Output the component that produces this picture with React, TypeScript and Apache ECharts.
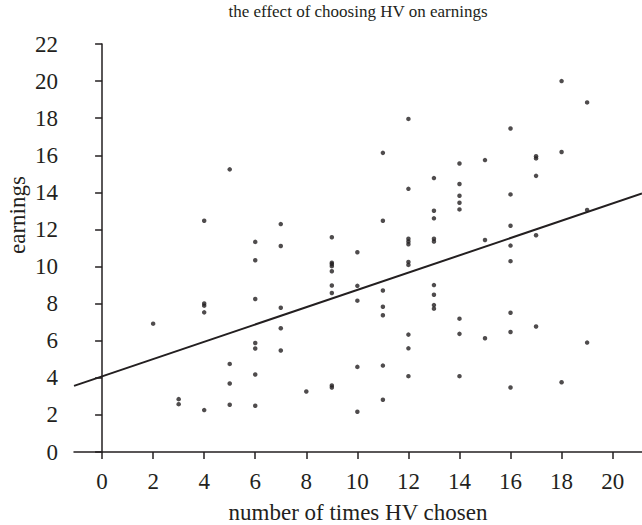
import React, { useEffect, useRef } from "react";
import * as echarts from "echarts";

// Data: [timesChosen, earnings]
const x2 = [6.92];
const x3 = [2.85, 2.58];
const x4 = [12.47, 8.01, 7.89, 7.53, 2.26];
const x5 = [15.24, 4.75, 3.69, 2.55];
const x6 = [11.33, 10.34, 8.25, 5.88, 5.58, 4.18, 2.49];
const x7 = [12.29, 11.11, 7.78, 6.67, 5.47];
const x8 = [3.26];
const x9 = [11.58, 10.21, 10.13, 10.02, 9.75, 8.98, 8.57, 3.59, 3.48];
const x10 = [10.77, 8.96, 8.16, 4.59, 2.17];
const x11 = [16.13, 12.47, 8.71, 7.83, 7.37, 4.66, 2.82];
const x12 = [17.96, 14.19, 11.5, 11.35, 11.2, 10.25, 10.09, 6.33, 5.59, 4.09];
const x13 = [14.77, 13.01, 12.6, 11.5, 11.35, 9.0, 8.48, 7.92, 7.73];
const x14 = [15.56, 14.45, 13.82, 13.44, 13.08, 7.19, 6.37, 4.09];
const x15 = [15.74, 11.43, 6.13];
const x16 = [17.44, 13.89, 12.2, 11.13, 10.29, 7.51, 6.47, 3.48];
const x17 = [15.95, 15.83, 14.89, 11.69, 6.77];
const x18 = [20.0, 16.18, 3.76];
const x19 = [18.85, 13.05, 5.9];

const columns: [number, number[]][] = [
  [2, x2], [3, x3], [4, x4], [5, x5], [6, x6], [7, x7], [8, x8], [9, x9],
  [10, x10], [11, x11], [12, x12], [13, x13], [14, x14], [15, x15],
  [16, x16], [17, x17], [18, x18], [19, x19],
];

// Fitted line
const fitIntercept = 4.08;
const fitSlope = 0.466;

const xTicks = [0, 2, 4, 6, 8, 10, 12, 14, 16, 18, 20];
const X_MIN = -1.1;
const X_MAX = 21.15;

const titleText = "the effect of choosing HV on earnings";
const xName = "number of times HV chosen";
const yName = "earnings";

const INK = "#231f20";
const FONT = "'Liberation Serif', 'Times New Roman', serif";

export default function App() {
  const ref = useRef<HTMLDivElement>(null);
  useEffect(() => {
    document.body.style.margin = "0";
    if (!ref.current) return;
    const chart = echarts.init(ref.current, undefined, { renderer: "svg" });
    const points: number[][] = [];
    columns.forEach(([x, ys]) => ys.forEach((y) => points.push([x, y])));
    const fit = [
      [X_MIN, fitIntercept + fitSlope * X_MIN],
      [X_MAX, fitIntercept + fitSlope * X_MAX],
    ];
    chart.setOption({
      animation: false,
      backgroundColor: "#ffffff",
      textStyle: { fontFamily: FONT },
      grid: { left: 74, right: 0, top: 44, bottom: 73 },
      xAxis: {
        type: "value",
        min: X_MIN,
        max: X_MAX,
        splitLine: { show: false },
        axisLine: { show: true, onZero: false, lineStyle: { color: INK, width: 1.5 } },
        axisTick: { show: true, length: 7, customValues: xTicks, lineStyle: { color: INK, width: 1.5 } },
        axisLabel: {
          customValues: xTicks,
          color: INK,
          fontFamily: FONT,
          fontSize: 23,
          margin: 18,
        },
      },
      yAxis: {
        type: "value",
        min: 0,
        max: 22,
        interval: 2,
        splitLine: { show: false },
        axisLine: { show: true, lineStyle: { color: INK, width: 1.5 } },
        axisTick: { show: true, length: 7, lineStyle: { color: INK, width: 1.5 } },
        axisLabel: {
          color: INK,
          fontFamily: FONT,
          fontSize: 23,
          margin: 16,
        },
      },
      graphic: [
        {
          type: "text",
          x: 358,
          y: 11.5,
          style: {
            text: titleText,
            fill: INK,
            font: `17px ${FONT}`,
            textAlign: "center",
            textVerticalAlign: "middle",
          },
        },
        {
          type: "text",
          x: 358,
          y: 512,
          style: {
            text: xName,
            fill: INK,
            font: `23px ${FONT}`,
            textAlign: "center",
            textVerticalAlign: "middle",
          },
        },
        {
          type: "text",
          x: 17,
          y: 215,
          rotation: Math.PI / 2,
          style: {
            text: yName,
            fill: INK,
            font: `23px ${FONT}`,
            textAlign: "center",
            textVerticalAlign: "middle",
          },
        },
      ],
      series: [
        {
          type: "scatter",
          data: points,
          symbolSize: 4.5,
          itemStyle: { color: INK },
        },
        {
          type: "line",
          data: fit,
          showSymbol: false,
          symbol: "none",
          lineStyle: { color: INK, width: 2 },
        },
      ],
    });
    return () => chart.dispose();
  }, []);
  return <div ref={ref} style={{ width: 642, height: 525 }} />;
}
